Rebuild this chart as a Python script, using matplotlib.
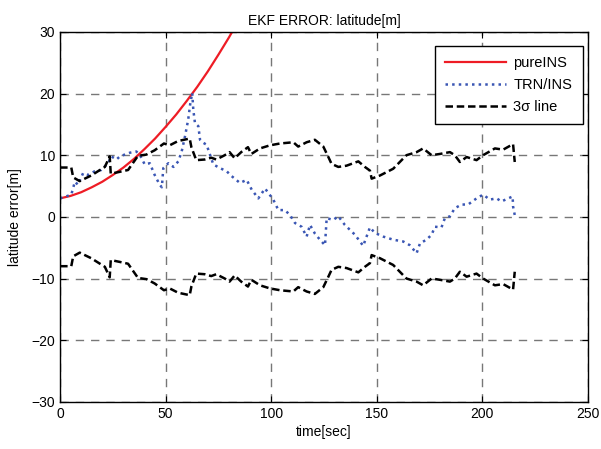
import numpy as np
import matplotlib
matplotlib.use('Agg')
from matplotlib import pyplot as plt

# pure INS error
t_ins = [0, 5, 10, 15, 20, 25, 30, 35, 40, 45, 50, 55, 60, 65, 70, 75, 80, 82, 84]
e_ins = [3.0, 3.4, 4.0, 4.8, 5.7, 6.8, 8.0, 9.4, 11.0, 12.7, 14.6, 16.6, 18.8, 21.1,
         23.6, 26.3, 29.1, 30.3, 31.5]

# TRN/INS error
t_trn = [0, 5.3, 7, 8.5, 10.9, 13.3, 16.4, 19.5, 22.7, 24.3, 26.7, 28.3, 30.6, 33, 36.1,
         37.7, 40.1, 42.5, 44.8, 47.2, 48.2, 48.9, 51.3, 53.7, 56, 57.6, 59.2, 60.7, 61.6,
         62.6, 63.1, 63.9, 65.5, 66.3, 67.9, 69.4, 72.6, 75.8, 78.9, 81.3, 85.2, 88.4,
         90.8, 93.9, 97.1, 101, 103.4, 106.5, 108.9, 111.3, 114.4, 116.8, 118.4, 120.7,
         123.1, 125.5, 126.3, 129.4, 131.8, 134.9, 139.7, 143.6, 146.8, 149.1, 153.1,
         157.8, 162.6, 165.7, 168.9, 170.5, 173.6, 176, 177.6, 180.7, 182.3, 184.7, 187,
         190.2, 193.3, 197.3, 200.4, 203.6, 206.8, 209.1, 212.3, 214.4, 214.6, 215.4]
e_trn = [3.0, 3.6, 5.7, 5.2, 7.1, 6.8, 7.4, 7.6, 8.7, 9.8, 9.3, 9.8, 10.1, 10.4, 10.6,
         10.1, 8.5, 8.7, 6.8, 5.2, 4.8, 7.9, 8.7, 8.1, 9.0, 10.6, 13.1, 15.8, 18.2,
         20.1, 17.4, 15.2, 14.7, 12.5, 12.0, 11.7, 8.5, 7.9, 7.4, 6.6, 5.5, 6.0,
         4.4, 3.0, 4.6, 2.8, 1.1, 1.1, 0.3, -1.0, -1.6, -3.2, -1.3, -2.7,
         -3.7, -4.6, -0.2, -0.5, 0.1, -1.3, -2.9, -4.7, -1.7, -2.6, -3.2,
         -3.7, -4.0, -4.6, -5.9, -4.3, -3.7, -2.9, -1.6, -1.7, -0.2, 0.1, 1.4,
         2.0, 2.0, 3.0, 3.6, 2.8, 3.0, 2.5, 3.0, 3.3, 1.7, 0.3]

# 3 sigma bound (plotted as +/-)
t_sig = [0, 5.3, 6.2, 9.3, 14.7, 21.2, 23.5, 24, 28.2, 32.2, 36.9, 40.9, 44.8, 49.2,
         51.9, 55.9, 61.4, 62.2, 64.5, 68.5, 71.6, 74, 78, 80.3, 82.7, 85.8, 89, 90.6,
         94.7, 99.4, 104.2, 110.5, 112.8, 116.8, 120.7, 124.7, 127.1, 128.6, 131.8,
         135.7, 141.3, 144.4, 146.8, 147.6, 151.5, 157.8, 164.1, 168.9, 172, 176,
         179.9, 184.7, 187, 189.4, 192.6, 197.3, 200.4, 206, 209.9, 214.6, 215.4]
sig3 = [8.0, 8.0, 6.4, 5.8, 6.7, 8.1, 9.8, 7.0, 7.3, 7.6, 9.9, 10.1, 10.8, 11.9,
        11.6, 12.3, 12.7, 11.3, 9.2, 9.3, 9.6, 9.3, 10.0, 10.5, 9.5, 10.5, 11.3, 10.2,
        11.1, 11.6, 11.9, 12.1, 11.4, 12.1, 12.5, 11.4, 9.7, 8.6, 8.1,
        8.3, 9.0, 8.1, 7.5, 6.2, 6.7, 7.8, 10.0, 10.5, 11.1, 10.0,
        10.2, 10.5, 10.0, 8.9, 9.7, 9.2, 10.0, 11.1, 10.9, 11.8, 8.9]

plt.rcParams['font.family'] = ['Liberation Sans', 'DejaVu Sans']

fig = plt.figure(figsize=(6.01, 4.49), dpi=100)
ax = fig.add_axes([0.1, 0.105, 0.878, 0.824])

ax.plot(t_ins, e_ins, color='#ee1c25', lw=1.6, label='pureINS')
ax.plot(t_trn, e_trn, color='#3a56b4', lw=1.8, ls=':', label='TRN/INS')
sig = np.array(sig3)
ax.plot(t_sig, sig, color='black', lw=1.8, ls='--', dashes=(3, 1.5), label='3σ line')
ax.plot(t_sig, -sig, color='black', lw=1.8, ls='--', dashes=(3, 1.5))

ax.set_xlim(0, 250)
ax.set_ylim(-30, 30)
ax.set_xticks(np.arange(0, 251, 50))
ax.set_yticks(np.arange(-30, 31, 10))
ax.grid(True, color='#777777', ls=(0, (6, 5)), lw=1.0)
ax.tick_params(direction='in', top=True, right=True, labelsize=10, length=4)
for s in ax.spines.values():
    s.set_linewidth(1.0)

ax.set_title('EKF ERROR: latitude[m]', fontsize=10, pad=5)
ax.set_xlabel('time[sec]', fontsize=10, labelpad=3)
ax.set_ylabel('latitude error[m]', fontsize=10, labelpad=7)

leg = ax.legend(loc='upper right', bbox_to_anchor=(0.99, 0.962), borderaxespad=0,
                fancybox=False, edgecolor='black', fontsize=10.5, handlelength=4.2,
                handletextpad=0.5, framealpha=1, borderpad=0.7, labelspacing=0.55)
leg.get_frame().set_linewidth(1.0)

fig.savefig('out.png', dpi=100)
